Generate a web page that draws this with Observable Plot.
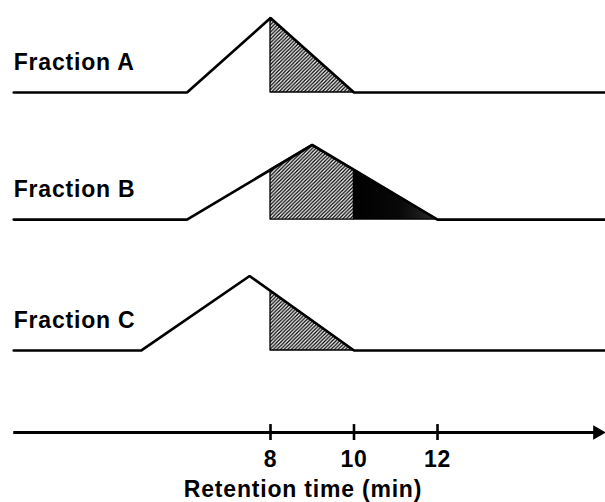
<!DOCTYPE html>
<html>
<head>
<meta charset="utf-8">
<script src="https://cdn.jsdelivr.net/npm/d3@7"></script>
<script src="https://cdn.jsdelivr.net/npm/@observablehq/plot@0.6"></script>
<style>
  html, body { margin: 0; padding: 0; background: #fff; }
</style>
</head>
<body>
<div id="chart"></div>
<script>
// ---- data ----
const fractionNames = ["Fraction A", "Fraction B", "Fraction C"];
// elution profile of each fraction (time in min, relative signal)
const profileTimes  = [[1.85, 6, 8, 10, 16.02], [1.85, 6, 9, 12, 16.02], [1.85, 4.9, 7.5, 10, 16.02]];
const profileSignal = [[0, 0, 1, 0, 0], [0, 0, 1, 0, 0], [0, 0, 1, 0, 0]];
// hatched collected part (8–10 min)
const hatchTimes  = [[8, 10], [8, 9, 10], [8, 10]];
const hatchSignal = [[1, 0], [0.667, 1, 0.667], [0.8, 0]];
// dark part (10–12 min), Fraction B only
const darkTimes  = [[], [10, 12], []];
const darkSignal = [[], [0.667, 0], []];
// axis
const tickValues = [8, 10, 12];
const tickLabels = ["8", "10", "12"];
const axisTitle = "Retention time (min)";
const axisStart = 1.85, axisArrow = 15.83;

// ---- layout (vertical stacking of rows, in signal units) ----
const rowOffset = [0, -1.705, -3.463];
const axisLevel = -4.564;

function rows(times, signals) {
  const out = [];
  times.forEach((ts, i) => ts.forEach((t, j) => out.push({
    fraction: fractionNames[i], t, base: rowOffset[i], top: rowOffset[i] + signals[i][j]
  })));
  return out;
}
const profile = rows(profileTimes, profileSignal);
const hatch = rows(hatchTimes, hatchSignal);
const dark = rows(darkTimes, darkSignal);
const labels = fractionNames.map((name, i) => ({name, t: axisStart, y: rowOffset[i] + 0.40}));
const ticks = tickValues.map((v, i) => ({v, label: tickLabels[i]}));

const defs = () => {
  const ns = "http://www.w3.org/2000/svg";
  const d = document.createElementNS(ns, "defs");
  d.innerHTML = `<pattern id="hatch" patternUnits="userSpaceOnUse" width="3.6" height="3.6">
      <path d="M-0.9,0.9 l1.8,-1.8 M0,3.6 l3.6,-3.6 M2.7,4.5 l1.8,-1.8" stroke="#000" stroke-width="1.3"/>
    </pattern>
    <linearGradient id="darkfill" x1="0" x2="1" y1="0" y2="0">
      <stop offset="0" stop-color="#000"/>
      <stop offset="0.55" stop-color="#080808"/>
      <stop offset="1" stop-color="#2a2a2a"/>
    </linearGradient>`;
  return d;
};

const chart = Plot.plot({
  width: 605,
  height: 502,
  margin: 0,
  style: {fontFamily: "'Liberation Sans', Arial, sans-serif", fontWeight: "bold", letterSpacing: "0.8px", background: "#fff"},
  x: {domain: [1.533, 16.024], axis: null},
  y: {domain: [-5.503, 1.235], axis: null},
  marks: [
    defs,
    Plot.areaY(hatch, {x: "t", y1: "base", y2: "top", z: "fraction", fill: "url(#hatch)", stroke: "#000", strokeWidth: 1.3}),
    Plot.areaY(dark, {x: "t", y1: "base", y2: "top", z: "fraction", fill: "url(#darkfill)", stroke: "#000", strokeWidth: 1.3}),
    Plot.line(profile, {x: "t", y: "top", z: "fraction", stroke: "#000", strokeWidth: 2.7, strokeLinejoin: "miter"}),
    Plot.text(labels, {x: "t", y: "y", text: "name", textAnchor: "start", lineAnchor: "middle", dx: 0, fontSize: 23, fontWeight: "bold", fill: "#000"}),
    // axis line with arrow
    Plot.ruleY([axisLevel], {x1: axisStart, x2: axisArrow, stroke: "#000", strokeWidth: 3}),
    Plot.dot([axisArrow], {x: d => d, y: axisLevel, symbol: "triangle", rotate: 90, r: 5.4, fill: "#000", stroke: "none"}),
    Plot.ruleX(ticks, {x: "v", y1: axisLevel - 0.107, y2: axisLevel + 0.107, stroke: "#000", strokeWidth: 2.6}),
    Plot.text(ticks, {x: "v", y: axisLevel - 0.362, text: "label", lineAnchor: "middle", fontSize: 23, fontWeight: "bold", fill: "#000"}),
    Plot.text([axisTitle], {frameAnchor: "bottom", dy: -13, lineAnchor: "middle", fontSize: 23, fontWeight: "bold", fill: "#000"})
  ]
});
document.getElementById("chart").appendChild(chart);
</script>
</body>
</html>
